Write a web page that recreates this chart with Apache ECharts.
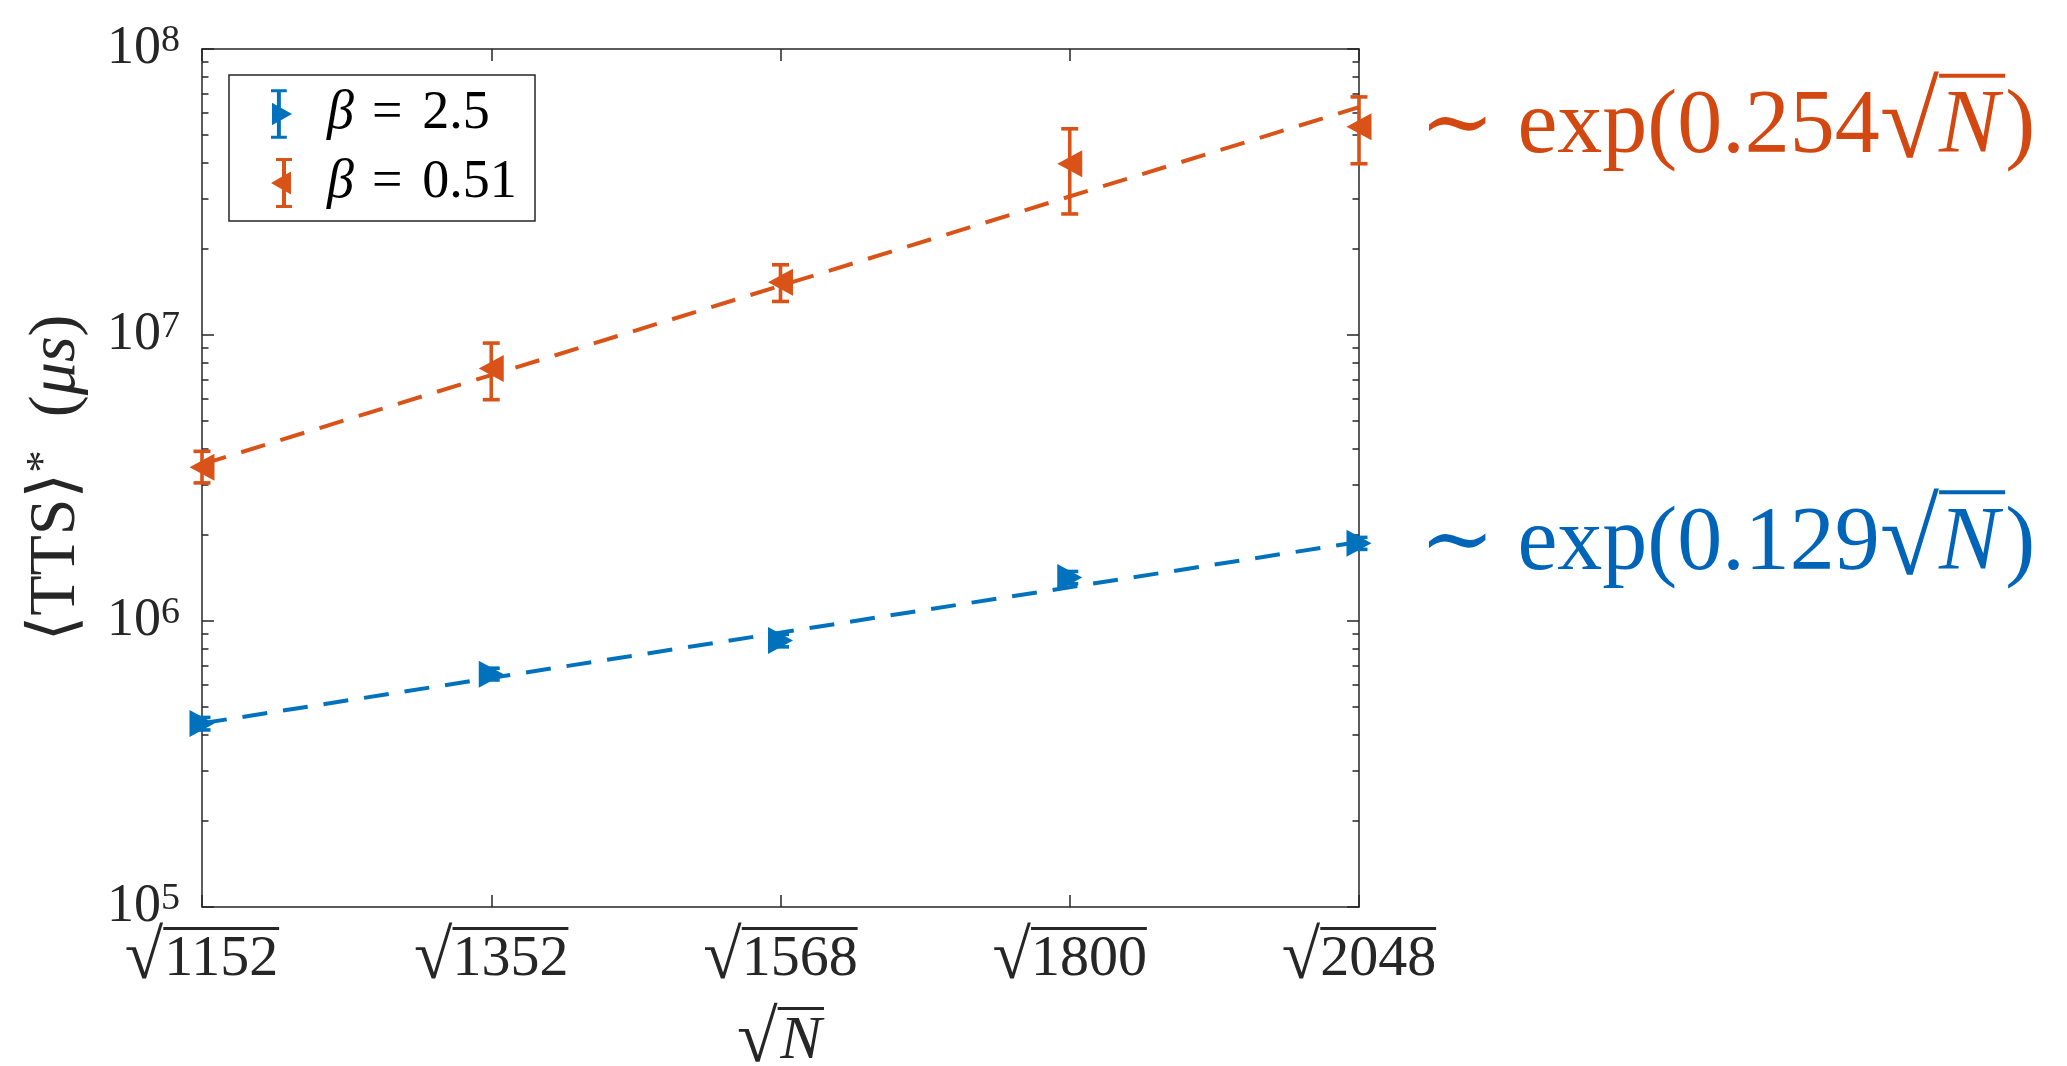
<!DOCTYPE html>
<html><head><meta charset="utf-8">
<script src="https://cdn.jsdelivr.net/npm/echarts@6/dist/echarts.min.js"></script>
<style>html,body{margin:0;padding:0;background:#fff}#c{width:2067px;height:1066px}</style>
</head><body><div id="c"></div><script>
// ---------------- data ----------------
const N_VALUES = [1152, 1352, 1568, 1800, 2048];
const TICK_LABELS = ['1152', '1352', '1568', '1800', '2048'];
const SERIES_NAMES = ['β = 2.5', 'β = 0.51'];
// beta = 2.5 (blue)
const TTS_B25 = [4.38e5, 6.52e5, 8.55e5, 1.42e6, 1.87e6];
const TTS_B25_LO = [4.16e5, 6.22e5, 8.12e5, 1.35e6, 1.78e6];
const TTS_B25_HI = [4.60e5, 6.84e5, 8.98e5, 1.49e6, 1.96e6];
// beta = 0.51 (orange)
const TTS_B051 = [3.45e6, 7.63e6, 1.53e7, 3.97e7, 5.35e7];
const TTS_B051_LO = [3.04e6, 5.94e6, 1.31e7, 2.65e7, 3.97e7];
const TTS_B051_HI = [3.92e6, 9.37e6, 1.76e7, 5.26e7, 6.80e7];
// fitted lines (value at first and last N)
const FIT_B25 = [4.39e5, 1.89e6];
const FIT_B051 = [3.53e6, 6.26e7];
const FIT_LABELS = ['0.129', '0.254'];
const Y_MAJOR = [1e5, 1e6, 1e7, 1e8];

// ---------------- helpers ----------------
const FF = '"Liberation Serif","DejaVu Serif",serif';
const INK = '#262626';
const BLUE = '#0072BD', ORANGE = '#D95319';
const BLUE_TXT = '#0065B8', ORANGE_TXT = '#D34810';
const cv = document.createElement('canvas').getContext('2d');
function tw(s, size, italic) { cv.font = (italic ? 'italic ' : '') + size + 'px ' + FF; return cv.measureText(s).width; }

const xs = N_VALUES.map(n => Math.sqrt(n));
const yMinor = [];
for (let e = 5; e < 8; e++) for (let k = 2; k <= 9; k++) yMinor.push(k * Math.pow(10, e));

// x tick labels with radical + overline
const XL = 58, XR = 70;
const wR = tw('√', XR), wD = tw(TICK_LABELS[0], XL);
const xLabelRich = {
  sp: { width: wR, height: 3, lineHeight: 3 },
  bar: { width: wD + 2, height: 3, lineHeight: 3, backgroundColor: INK },
  r: { fontSize: XR, fontFamily: FF, color: INK, width: wR, lineHeight: 60 },
  d: { fontSize: XL, fontFamily: FF, color: INK, width: wD + 2, lineHeight: 60 }
};

// annotation label
const AL = 90, AR = 108;
function annot(coef, color) {
  const t1 = '∼ exp(' + coef;
  const w1 = tw(t1, AL), wr = tw('√', AR), wn = tw('N', AL, true);
  return {
    show: true, position: 'right', distance: 48,
    formatter: '{sp|}{bar|}\n{t|' + t1 + '}{r|√}{n|N}{t|)}',
    rich: {
      sp: { width: w1 + wr, height: 4, lineHeight: 4 },
      bar: { width: wn + 6, height: 4, lineHeight: 4, backgroundColor: color },
      t: { fontSize: AL, fontFamily: FF, color: color, lineHeight: 102 },
      r: { fontSize: AR, fontFamily: FF, color: color, lineHeight: 102, width: wr },
      n: { fontSize: AL, fontFamily: FF, fontStyle: 'italic', color: color, lineHeight: 102, width: wn + 6 }
    }
  };
}

function scatterData(vals, label) {
  return vals.map((v, i) => i === vals.length - 1 ? { value: [xs[i], v], label: label } : [xs[i], v]);
}
function errData(lo, hi) { return lo.map((l, i) => [xs[i], l, hi[i]]); }
function errRender(color) {
  return function (params, api) {
    const x = api.value(0);
    const a = api.coord([x, api.value(1)]), b = api.coord([x, api.value(2)]);
    const c = 8.5;
    const st = { stroke: color, lineWidth: 3.6, fill: null };
    return { type: 'group', children: [
      { type: 'line', shape: { x1: a[0], y1: a[1], x2: b[0], y2: b[1] }, style: st },
      { type: 'line', shape: { x1: a[0] - c, y1: a[1], x2: a[0] + c, y2: a[1] }, style: st },
      { type: 'line', shape: { x1: b[0] - c, y1: b[1], x2: b[0] + c, y2: b[1] }, style: st }
    ] };
  };
}

const TRI_R = 'path://M0 0L24 13L0 26Z';
const TRI_L = 'path://M24 0L0 13L24 26Z';
const ICON_R = 'path://M0 0H16V3H10V47H16V50H0V47H6V3H0Z M1 13.5L21.3 25L1 36.5Z';
const ICON_L = 'path://M5 0H21V3H15V47H21V50H5V47H11V3H5Z M20 36.5L0 25L20 13.5Z';

function yAxisBase(pos, minor) {
  return {
    type: 'log', logBase: 10, min: 1e5, max: 1e8, position: pos, gridIndex: 0,
    axisLine: { show: !minor, lineStyle: { color: INK, width: 1.5 } },
    axisTick: { show: true, inside: true, length: minor ? 6.5 : 12, customValues: minor ? yMinor : Y_MAJOR, lineStyle: { color: INK, width: 1.5 } },
    axisLabel: { show: false },
    splitLine: { show: false }, minorTick: { show: false }
  };
}
const y0 = yAxisBase('left', false);
y0.axisLabel = {
  show: true, margin: 22, customValues: Y_MAJOR, fontFamily: FF,
  formatter: v => '{b|10}{s|' + Math.round(Math.log10(v)) + '}',
  rich: {
    b: { fontSize: 54, fontFamily: FF, color: INK, lineHeight: 54, verticalAlign: 'bottom' },
    s: { fontSize: 38, fontFamily: FF, color: INK, lineHeight: 38, verticalAlign: 'top' }
  }
};
y0.name = '{a|⟨TTS⟩}{s|*}{a|  (}{i|μs}{a|)}';
y0.nameLocation = 'middle';
y0.nameRotate = 90;
y0.nameGap = 112;
y0.nameTextStyle = { fontFamily: FF, rich: {
  a: { fontSize: 66, fontFamily: FF, color: INK, lineHeight: 68, verticalAlign: 'bottom' },
  s: { fontSize: 45, fontFamily: FF, color: INK, lineHeight: 45, verticalAlign: 'top' },
  i: { fontSize: 66, fontFamily: FF, fontStyle: 'italic', color: INK, lineHeight: 68, verticalAlign: 'bottom' }
} };

function xAxisBase(pos, labels) {
  return {
    type: 'value', min: xs[0], max: xs[xs.length - 1], position: pos, gridIndex: 0,
    axisLine: { show: true, onZero: false, lineStyle: { color: INK, width: 1.5 } },
    axisTick: { show: true, inside: true, length: 12, customValues: xs, lineStyle: { color: INK, width: 1.5 } },
    axisLabel: labels ? {
      show: true, margin: 20, customValues: xs, fontFamily: FF,
      formatter: v => '{sp|}{bar|}\n{r|√}{d|' + Math.round(v * v) + '}',
      rich: xLabelRich
    } : { show: false },
    splitLine: { show: false }
  };
}
const x0 = xAxisBase('bottom', true);
const wRn = tw('√', 74), wN = tw('N', 62, true);
x0.name = '{sp|}{bar|}\n{r|√}{n|N}';
x0.nameLocation = 'middle';
x0.nameGap = 100;
x0.nameTextStyle = { fontFamily: FF, rich: {
  sp: { width: wRn, height: 3, lineHeight: 3 },
  bar: { width: wN + 5, height: 3, lineHeight: 3, backgroundColor: INK },
  r: { fontSize: 74, fontFamily: FF, color: INK, width: wRn, lineHeight: 64 },
  n: { fontSize: 62, fontFamily: FF, fontStyle: 'italic', color: INK, width: wN + 5, lineHeight: 64 }
} };

const option = {
  backgroundColor: '#fff',
  animation: false,
  textStyle: { fontFamily: FF },
  grid: { left: 202, top: 49, width: 1157, height: 858, containLabel: false, outerBoundsMode: 'none' },
  xAxis: [x0, xAxisBase('top', false)],
  yAxis: [y0, yAxisBase('left', true), yAxisBase('right', false), yAxisBase('right', true)],
  legend: {
    show: true, orient: 'vertical', left: 229, top: 75, padding: [12, 0, 11, 42], itemGap: 15,
    itemWidth: 21, itemHeight: 50, selectedMode: false,
    borderColor: INK, borderWidth: 1.5, backgroundColor: '#fff', borderRadius: 0,
    data: [{ name: SERIES_NAMES[0], icon: ICON_R }, { name: SERIES_NAMES[1], icon: ICON_L }],
    formatter: n => '{sp|}{i|β}{e|=}{t|' + n.split('= ')[1] + '}',
    textStyle: { width: 238, lineHeight: 50, fontFamily: FF, fontSize: 54, color: '#000', rich: {
      sp: { width: 30 },
      i: { fontSize: 54, fontFamily: FF, fontStyle: 'italic', color: '#000' },
      e: { fontSize: 54, fontFamily: FF, color: '#000', padding: [0, 20, 0, 18] },
      t: { fontSize: 54, fontFamily: FF, color: '#000' }
    } }
  },
  series: [
    { type: 'custom', name: 'err25', renderItem: errRender(BLUE), data: errData(TTS_B25_LO, TTS_B25_HI), encode: { x: 0, y: [1, 2] }, z: 2 },
    { type: 'scatter', name: SERIES_NAMES[0], data: scatterData(TTS_B25, annot(FIT_LABELS[0], BLUE_TXT)), symbol: TRI_R, symbolSize: [25, 27], itemStyle: { color: BLUE, opacity: 1 }, z: 3 },
    { type: 'custom', name: 'err051', renderItem: errRender(ORANGE), data: errData(TTS_B051_LO, TTS_B051_HI), encode: { x: 0, y: [1, 2] }, z: 2 },
    { type: 'scatter', name: SERIES_NAMES[1], data: scatterData(TTS_B051, annot(FIT_LABELS[1], ORANGE_TXT)), symbol: TRI_L, symbolSize: [25, 27], itemStyle: { color: ORANGE, opacity: 1 }, z: 3 },
    { type: 'line', name: 'fit25', data: [[xs[0], FIT_B25[0]], [xs[4], FIT_B25[1]]], showSymbol: false, symbol: 'none', lineStyle: { color: BLUE, width: 4, type: [25, 16] }, z: 4, silent: true },
    { type: 'line', name: 'fit051', data: [[xs[0], FIT_B051[0]], [xs[4], FIT_B051[1]]], showSymbol: false, symbol: 'none', lineStyle: { color: ORANGE, width: 4, type: [25, 16] }, z: 4, silent: true }
  ]
};
const chart = echarts.init(document.getElementById('c'), null, { renderer: 'canvas' });
chart.setOption(option);
</script></body></html>
